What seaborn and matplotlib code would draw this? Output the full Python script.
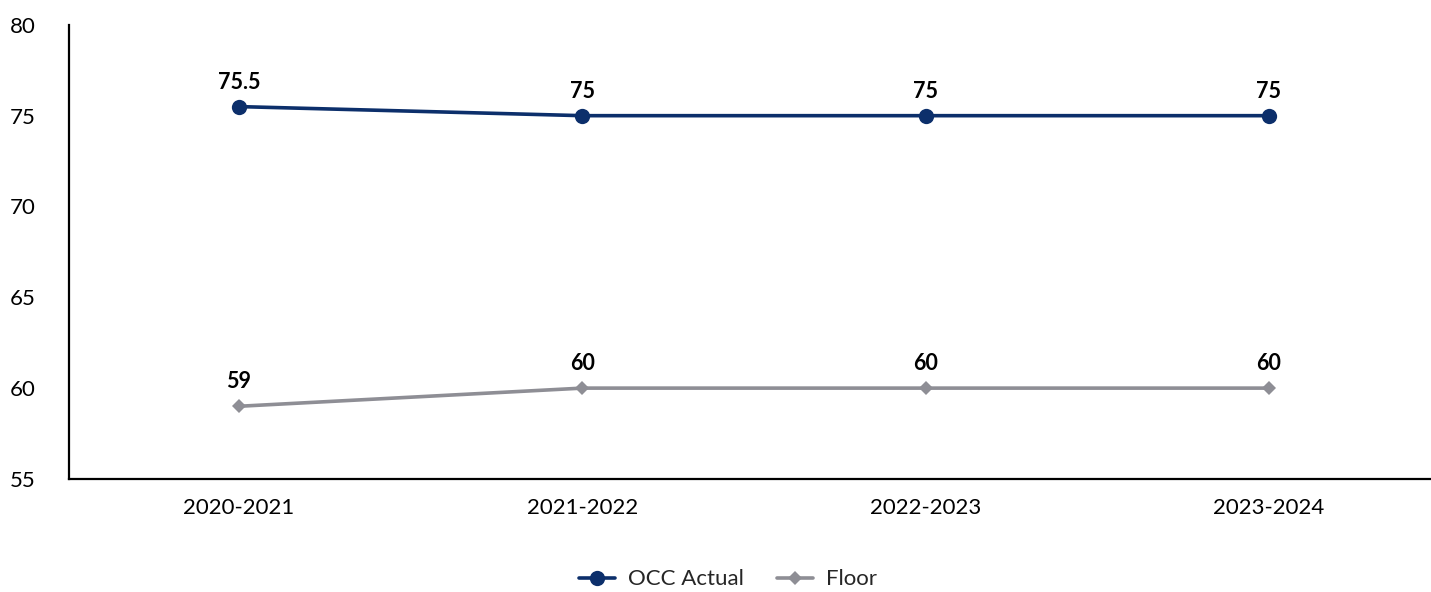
import pandas as pd
import seaborn as sns
import matplotlib.pyplot as plt

# === Dane ===
years = ["2020-2021", "2021-2022", "2022-2023", "2023-2024"]
occ_actual = [75.5, 75, 75, 75]
floor = [59, 60, 60, 60]

df = pd.DataFrame({
    "year": years * 2,
    "value": occ_actual + floor,
    "series": ["OCC Actual"] * 4 + ["Floor"] * 4,
})

palette = {"OCC Actual": "#0c2f6b", "Floor": "#8e8e95"}
markers = {"OCC Actual": "o", "Floor": "D"}
sizes = {"OCC Actual": 11, "Floor": 7}

sns.set_style("white")
plt.rcParams["font.family"] = ["Lato", "DejaVu Sans"]

fig = plt.figure(figsize=(14.31, 5.92), dpi=100)
ax = fig.add_axes([0.0482, 0.191, 0.951, 0.767])

for name in ["OCC Actual", "Floor"]:
    sub = df[df["series"] == name]
    sns.lineplot(
        data=sub, x="year", y="value",
        color=palette[name], marker=markers[name], markersize=sizes[name],
        markeredgewidth=0, linewidth=2.6, label=name, ax=ax, sort=False,
    )
    for i, row in enumerate(sub.itertuples()):
        ax.annotate(f"{row.value:g}", xy=(i, row.value), xytext=(0, 10),
                    textcoords="offset points", ha="center", va="bottom",
                    fontsize=15.5, fontweight="bold", color="black")

ax.set_xlim(-0.495, 3.469)
ax.set_ylim(55, 80)
ax.set_yticks([55, 60, 65, 70, 75, 80])
ax.set_xlabel("")
ax.set_ylabel("")
ax.tick_params(axis="both", length=0, labelsize=16, colors="black")
ax.tick_params(axis="y", pad=24)
ax.tick_params(axis="x", pad=14)

sns.despine(ax=ax)
for s in ["left", "bottom"]:
    ax.spines[s].set_color("black")
    ax.spines[s].set_linewidth(1.6)

ax.legend(loc="upper center", bbox_to_anchor=(0.5 - 0.0155, -0.155), ncol=2,
          frameon=False, fontsize=16, handlelength=1.6, handletextpad=0.6,
          columnspacing=1.5)

fig.savefig("out.png", dpi=100)
